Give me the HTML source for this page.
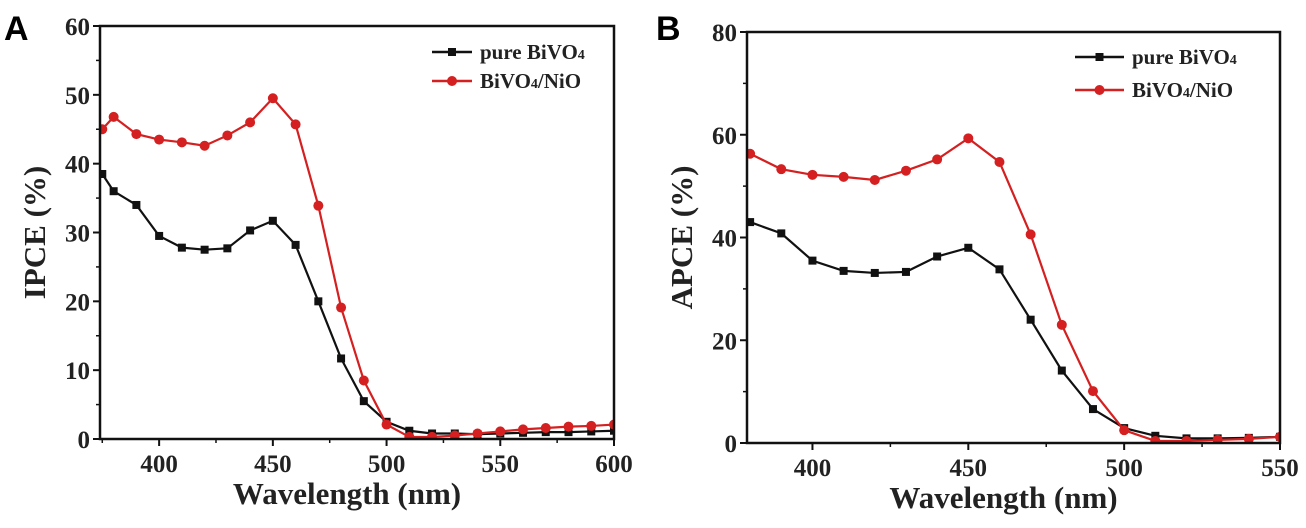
<!DOCTYPE html>
<html><head><meta charset="utf-8"><style>
body{margin:0;background:#fff;}
svg text{font-family:"Liberation Serif",serif;font-weight:bold;}
svg text.plabel{font-family:"Liberation Sans",sans-serif;font-weight:bold;}
</style></head><body>
<svg id="s" width="1306" height="523" xmlns="http://www.w3.org/2000/svg"></svg>
<script>
const wlA=[375,380,390,400,410,420,430,440,450,460,470,480,490,500,510,520,530,540,550,560,570,580,590,600];
const pureA=[38.5,36,34,29.5,27.8,27.5,27.7,30.3,31.7,28.2,20,11.7,5.5,2.5,1.2,0.8,0.8,0.7,0.8,0.9,1,1,1.1,1.2];
const nioA=[45,46.8,44.3,43.5,43.1,42.6,44.1,46,49.5,45.7,33.9,19.1,8.5,2.1,0.3,0.3,0.5,0.8,1.1,1.4,1.6,1.8,1.9,2.1];
const wlB=[380,390,400,410,420,430,440,450,460,470,480,490,500,510,520,530,540,550];
const pureB=[43,40.8,35.5,33.5,33.1,33.3,36.3,38,33.8,24,14.1,6.6,2.9,1.4,0.9,0.9,1,1.2];
const nioB=[56.3,53.3,52.2,51.8,51.2,53,55.2,59.3,54.7,40.6,23,10.1,2.5,0.4,0.4,0.6,0.8,1.2];
const xTicksA=[400,450,500,550,600], yTicksA=[0,10,20,30,40,50,60];
const xTicksB=[400,450,500,550], yTicksB=[0,20,40,60,80];

const S=document.getElementById('s');const NS='http://www.w3.org/2000/svg';
function el(t,a,p){const e=document.createElementNS(NS,t);for(const k in a)e.setAttribute(k,a[k]);(p||S).appendChild(e);return e;}

function panel(o){
  const g=el('g',{});
  
  
  const X=v=>o.l+(v-o.x0)/(o.x1-o.x0)*(o.r-o.l);
  const Y=v=>o.b-(v-o.y0)/(o.y1-o.y0)*(o.b-o.t);
  const clipId=o.id+'-clip';
  const cp=el('clipPath',{id:clipId},g);el('rect',{x:o.l,y:o.t,width:o.r-o.l,height:o.b-o.t},cp);
  [[o.pure,'#111','sq','pure'],[o.nio,'#d42020','ci','nio']].forEach(([vals,c,m,n])=>{
    const sg=el('g',{'clip-path':'url(#'+clipId+')'},g);
    
    
    const line=el('polyline',{points:o.wl.map((w,i)=>X(w)+','+Y(vals[i])).join(' '),fill:'none',stroke:c,'stroke-width':2.2},sg);
    
    
    o.wl.forEach((w,i)=>{
      let mk;
      if(m==='sq') mk=el('rect',{x:X(w)-4,y:Y(vals[i])-4,width:8,height:8,fill:c},sg);
      else mk=el('circle',{cx:X(w),cy:Y(vals[i]),r:5,fill:c},sg);
      
      
    });
  });
  const fr=el('rect',{x:o.l,y:o.t,width:o.r-o.l,height:o.b-o.t,fill:'none',stroke:'#111','stroke-width':2.5},g);
  
  
  o.xt.forEach(v=>{
    el('line',{x1:X(v),x2:X(v),y1:o.b,y2:o.b+7,stroke:'#111','stroke-width':2},g);
    const t=el('text',{x:X(v),y:o.b+33,'font-size':25,'text-anchor':'middle',fill:'#222'},g);t.textContent=v;
    
    
    const mv=v-25; if(mv>o.x0) el('line',{x1:X(mv),x2:X(mv),y1:o.b,y2:o.b+4,stroke:'#111','stroke-width':1.5},g);
  });
  o.yt.forEach((v,i)=>{
    el('line',{x1:o.l-7,x2:o.l,y1:Y(v),y2:Y(v),stroke:'#111','stroke-width':2},g);
    const t=el('text',{x:o.l-10,y:Y(v)+9,'font-size':25,'text-anchor':'end',fill:'#222'},g);t.textContent=v;
    
    
    if(i>0){const mv=(v+o.yt[i-1])/2;el('line',{x1:o.l-4,x2:o.l,y1:Y(mv),y2:Y(mv),stroke:'#111','stroke-width':1.5},g);}
  });
  const xt=el('text',{x:(o.l+o.r)/2-10,y:o.b+65,'font-size':31,'text-anchor':'middle',fill:'#222'},g);xt.textContent='Wavelength (nm)';
  
  
  const yt=el('text',{x:0,y:0,'font-size':31,'text-anchor':'middle',fill:'#222',transform:'translate('+(o.l-55)+','+((o.t+o.b)/2)+') rotate(-90)'},g);yt.textContent=o.ylab;
  
  
  const pl=el('text',{x:o.lx,y:40,'font-size':34,fill:'#000','class':'plabel'},g);pl.textContent=o.letter;
  
  
  [0,1].forEach(i=>{
    const ly=o.ly+i*o.lgap;
    const c=i===0?'#111':'#d42020';
    const lg=el('g',{},g);
    
    
    el('line',{x1:o.lx1,x2:o.lx2,y1:ly,y2:ly,stroke:c,'stroke-width':2.5},lg);
    if(i===0)el('rect',{x:(o.lx1+o.lx2)/2-4,y:ly-4,width:8,height:8,fill:c},lg);
    else el('circle',{cx:(o.lx1+o.lx2)/2,cy:ly,r:5,fill:c},lg);
    const t=el('text',{x:o.lx2+8,y:ly+7,'font-size':21,fill:'#222'},lg);
    if(i===0){t.appendChild(document.createTextNode('pure BiVO'));const s=el('tspan',{'font-size':14},t);s.textContent='4';}
    else{t.appendChild(document.createTextNode('BiVO'));const s=el('tspan',{'font-size':14},t);s.textContent='4';const s2=el('tspan',{},t);s2.textContent='/NiO';}
  });
}
panel({id:'panel-a',l:100,r:614,t:26,b:439,x0:374,x1:600,y0:0,y1:60,wl:wlA,pure:pureA,nio:nioA,xt:xTicksA,yt:yTicksA,ylab:'IPCE (%)',letter:'A',lx:4,lx1:432,lx2:472,ly:52,lgap:29});
panel({id:'panel-b',l:747,r:1280,t:32,b:443,x0:379,x1:550,y0:0,y1:80,wl:wlB,pure:pureB,nio:nioB,xt:xTicksB,yt:yTicksB,ylab:'APCE (%)',letter:'B',lx:656,lx1:1075,lx2:1124,ly:57,lgap:33});
</script>
</body></html>
